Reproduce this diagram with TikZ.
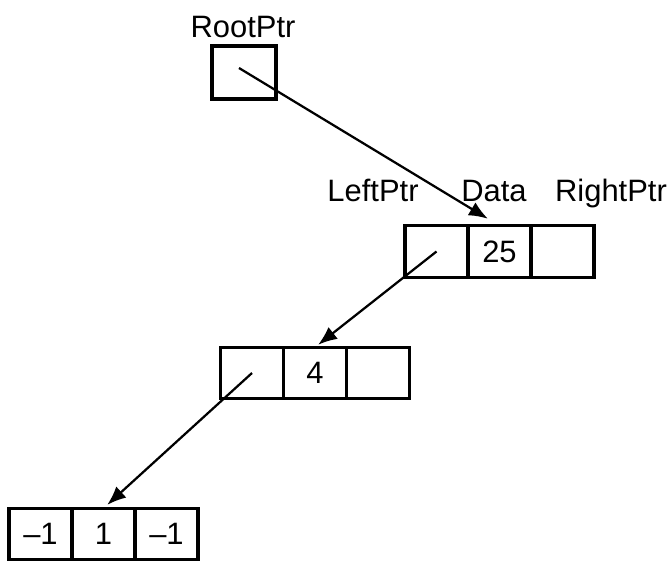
\documentclass[tikz,border=0pt]{standalone}
\usepackage{fontspec}
\setmainfont{Liberation Sans}
\usetikzlibrary{arrows.meta, positioning}

\begin{document}
\begin{tikzpicture}[x=0.02cm, y=-0.02cm,
    every node/.style={font=\fontsize{17.6}{21}\selectfont},
    cell/.style={draw, line width=0.065cm, outer sep=0pt, inner sep=0pt, minimum width=1.26cm, minimum height=1.03cm},
    ptr/.style={-{Latex[length=0.38cm, width=0.3cm]}, line width=0.045cm}]
    \useasboundingbox (0,0) rectangle (672,562);
    \node[cell, minimum width=1.28cm, minimum height=1.06cm] (root) at (244,72.5) {};
    \node[anchor=base] (rootlbl) at (243,37) {RootPtr};
    \coordinate (rootp) at (239,68);
    \node[cell] (L25) at (436.5,251.5) {};
    \node[cell, right=0pt of L25] (D25) {25};
    \node[cell, right=0pt of D25] (R25) {};
    \node[anchor=base] (lptr) at (373,201) {LeftPtr};
    \node[anchor=base] (data) at (494,201) {Data};
    \node[anchor=base] (rptr) at (611,201) {RightPtr};
    \node[cell] (L4) at (252,373) {};
    \node[cell, right=0pt of L4] (D4) {4};
    \node[cell, right=0pt of D4] (R4) {};
    \node[cell] (L1) at (40.5,534) {–1};
    \node[cell, right=0pt of L1] (D1) {1};
    \node[cell, right=0pt of D1] (R1) {–1};
    \draw[ptr, shorten >=0.27cm] (rootp) -- (D25.north);
    \draw[ptr, shorten >=0.08cm] (L25.center) -- (D4.north);
    \draw[ptr, shorten >=0.1cm] (L4.center) -- (D1.north);
\end{tikzpicture}
\end{document}
